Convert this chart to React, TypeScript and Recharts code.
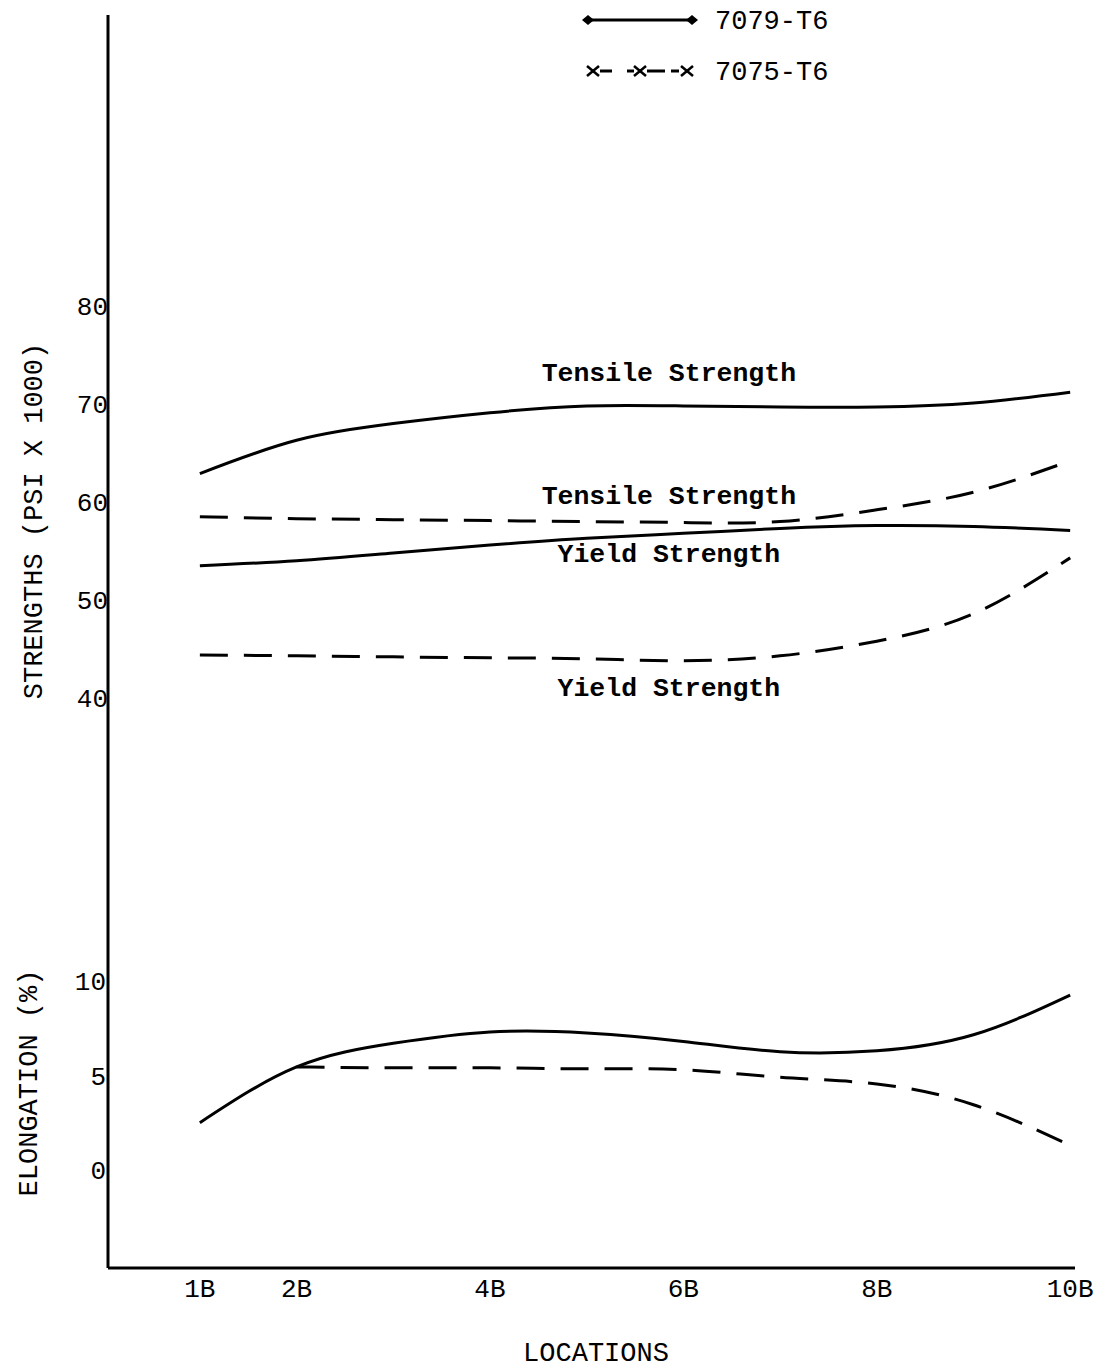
import React from 'react';
import { LineChart, Line, XAxis, YAxis, ReferenceDot, Legend } from 'recharts';

// Locations along the part (1B ... 10B)
const locations = [1, 2, 3, 4, 5, 6, 7, 8, 9, 10];
const locationTicks = [1, 2, 4, 6, 8, 10];
const locationTickLabels = ['1B', '2B', '4B', '6B', '8B', '10B'];

// Strengths (PSI x 1000)
const strengthTicks = [40, 50, 60, 70, 80];
const tensile7079 = [62.9, 66.3, 68.0, 69.1, 69.8, 69.8, 69.7, 69.7, 70.1, 71.2];
const tensile7075 = [58.5, 58.3, 58.2, 58.1, 58.0, 57.9, 58.0, 59.2, 61.0, 64.2];
const yield7079 = [53.5, 54.0, 54.8, 55.6, 56.3, 56.8, 57.3, 57.6, 57.5, 57.1];
const yield7075 = [44.4, 44.3, 44.2, 44.1, 44.0, 43.8, 44.3, 45.8, 48.6, 54.3];

// Elongation (%)
const elongationTicks = [0, 5, 10];
const elong7079 = [2.5, 5.45, 6.7, 7.3, 7.25, 6.8, 6.25, 6.3, 7.15, 9.25];
const elong7075 = [null, 5.45, 5.4, 5.4, 5.35, 5.3, 4.9, 4.55, 3.45, 1.3];

// Curve annotations
const annotationTexts = ['Tensile Strength', 'Tensile Strength', 'Yield Strength', 'Yield Strength'];
const annotationLoc = [5.85, 5.85, 5.85, 5.85];
const annotationValue = [73.3, 60.7, 54.8, 41.1];

const seriesNames = ['7079-T6', '7075-T6'];

const rows = locations.map((loc, i) => ({
  loc,
  t79: tensile7079[i],
  t75: tensile7075[i],
  y79: yield7079[i],
  y75: yield7075[i],
  e79: elong7079[i],
  e75: elong7075[i],
}));

const FONT = '"Liberation Mono", "Courier New", monospace';
const DASH = '28 16';

const StrengthTick = (props: any) => {
  const { x, y, payload } = props;
  return (
    <text x={x} y={y} dy="0.35em" textAnchor="end" fontFamily={FONT} fontSize={26} fill="#000">
      {payload.value}
    </text>
  );
};

const ElongTick = (props: any) => {
  const { x, y, payload } = props;
  return (
    <text x={x - 2} y={y} dy="0.35em" textAnchor="end" fontFamily={FONT} fontSize={26} fill="#000">
      {payload.value}
    </text>
  );
};

const LocTick = (props: any) => {
  const { x, y, payload } = props;
  const idx = locationTicks.indexOf(payload.value);
  return (
    <text x={x} y={y + 29} textAnchor="middle" fontFamily={FONT} fontSize={26} fill="#000">
      {locationTickLabels[idx]}
    </text>
  );
};

const Cross = ({ cx, cy }: { cx: number; cy: number }) => (
  <g stroke="#000" strokeWidth={2.5}>
    <line x1={cx - 6} y1={cy - 5} x2={cx + 6} y2={cy + 5} />
    <line x1={cx - 6} y1={cy + 5} x2={cx + 6} y2={cy - 5} />
  </g>
);

const LegendBox = () => (
  <div style={{ position: 'absolute', left: 570, top: 0 }}>
    <svg width={280} height={95}>
      <line x1={18} y1={20} x2={122} y2={20} stroke="#000" strokeWidth={3} />
      <polygon points="12,20 18,15 24,20 18,25" fill="#000" />
      <polygon points="116,20 122,15 128,20 122,25" fill="#000" />
      <text x={145} y={20} dy="0.35em" fontFamily={FONT} fontSize={27} fill="#000">{seriesNames[0]}</text>
      <Cross cx={23} cy={71} />
      <line x1={30} y1={71} x2={42} y2={71} stroke="#000" strokeWidth={3} />
      <line x1={57} y1={71} x2={64} y2={71} stroke="#000" strokeWidth={3} />
      <Cross cx={70} cy={71} />
      <line x1={77} y1={71} x2={95} y2={71} stroke="#000" strokeWidth={3} />
      <line x1={101} y1={71} x2={109} y2={71} stroke="#000" strokeWidth={3} />
      <Cross cx={117} cy={71} />
      <text x={145} y={71} dy="0.35em" fontFamily={FONT} fontSize={27} fill="#000">{seriesNames[1]}</text>
    </svg>
  </div>
);

const annotationShape = (text: string) => (p: any) => (
  <text x={p.cx} y={p.cy} dy="0.35em" textAnchor="middle" fontFamily={FONT} fontWeight="bold" fontSize={26.5} fill="#000">
    {text}
  </text>
);

export default function App() {
  return (
    <div style={{ position: 'absolute', left: 0, top: 0, background: '#fff' }}>
      <LineChart width={1096} height={1368} data={rows} margin={{ top: 15, right: 21, bottom: 40, left: 0 }}>
        <XAxis
          dataKey="loc"
          type="number"
          domain={[0.05, 10.05]}
          ticks={locationTicks}
          allowDataOverflow
          height={60}
          tickSize={0}
          tickMargin={0}
          tick={<LocTick />}
          axisLine={{ stroke: '#000', strokeWidth: 3 }}
          tickLine={false}
          label={{
            content: () => (
              <text x={596} y={1352} dy="0.35em" textAnchor="middle" fontFamily={FONT} fontSize={27} fill="#000">
                LOCATIONS
              </text>
            ),
          }}
        />
        <YAxis
          yAxisId="s"
          type="number"
          domain={[-18.16, 109.69]}
          ticks={strengthTicks}
          allowDataOverflow
          width={108}
          tickSize={0}
          tickMargin={0}
          tick={<StrengthTick />}
          tickLine={false}
          axisLine={{ stroke: '#000', strokeWidth: 3 }}
          label={{
            content: () => (
              <text
                x={33}
                y={521}
                dy="0.35em"
                textAnchor="middle"
                transform="rotate(-90 33 521)"
                fontFamily={FONT}
                fontSize={27}
                fill="#000"
              >
                STRENGTHS (PSI X 1000)
              </text>
            ),
          }}
        />
        <YAxis
          yAxisId="e"
          type="number"
          domain={[-5.19, 61.11]}
          ticks={elongationTicks}
          allowDataOverflow
          mirror
          tickSize={0}
          tickMargin={0}
          tick={<ElongTick />}
          tickLine={false}
          axisLine={false}
          label={{
            content: () => (
              <text
                x={28}
                y={1083}
                dy="0.35em"
                textAnchor="middle"
                transform="rotate(-90 28 1083)"
                fontFamily={FONT}
                fontSize={27}
                fill="#000"
              >
                ELONGATION (%)
              </text>
            ),
          }}
        />
        <Legend content={() => <LegendBox />} wrapperStyle={{ position: 'absolute', left: 0, top: 0, width: 0, height: 0 }} />
        <Line yAxisId="s" type="natural" dataKey="t79" name="7079-T6" stroke="#000" strokeWidth={3} dot={false} isAnimationActive={false} legendType="none" />
        <Line yAxisId="s" type="natural" dataKey="t75" name="7075-T6" stroke="#000" strokeWidth={3} strokeDasharray={DASH} dot={false} isAnimationActive={false} legendType="none" />
        <Line yAxisId="s" type="natural" dataKey="y79" name="7079-T6 yield" stroke="#000" strokeWidth={3} dot={false} isAnimationActive={false} legendType="none" />
        <Line yAxisId="s" type="natural" dataKey="y75" name="7075-T6 yield" stroke="#000" strokeWidth={3} strokeDasharray={DASH} dot={false} isAnimationActive={false} legendType="none" />
        <Line yAxisId="e" type="natural" dataKey="e79" name="7079-T6 elong" stroke="#000" strokeWidth={3} dot={false} isAnimationActive={false} legendType="none" />
        <Line yAxisId="e" type="natural" dataKey="e75" name="7075-T6 elong" stroke="#000" strokeWidth={3} strokeDasharray={DASH} dot={false} isAnimationActive={false} legendType="none" />
        {annotationTexts.map((t, i) => (
          <ReferenceDot
            key={i}
            yAxisId="s"
            x={annotationLoc[i]}
            y={annotationValue[i]}
            r={1}
            shape={annotationShape(t)}
          />
        ))}
      </LineChart>
    </div>
  );
}
